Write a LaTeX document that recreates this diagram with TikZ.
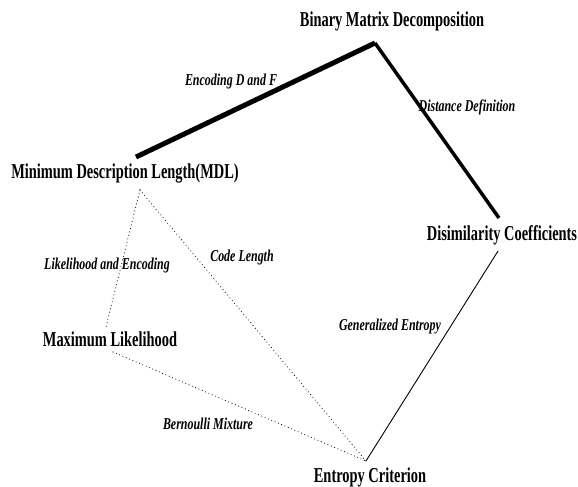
\documentclass[tikz,border=0pt]{standalone}
\usepackage{fontspec}
\setmainfont{Liberation Serif}[FakeStretch=0.68]
\newfontfamily\labfont{Liberation Serif}[FakeStretch=0.72]
\begin{document}
\begin{tikzpicture}[x=1pt,y=-1pt,
  concept/.style={font=\fontsize{21.2}{24}\selectfont\bfseries, inner sep=0pt, anchor=base},
  rel/.style={font=\labfont\fontsize{16.6}{19}\selectfont\bfseries\itshape, inner sep=0pt},
  thickline/.style={line width=5pt},
  midline/.style={line width=3.5pt},
  thinline/.style={line width=0.9pt},
  dotline/.style={line width=1.1pt, line cap=round, dash pattern=on 0pt off 3.6pt}]
\useasboundingbox (0,0) rectangle (578,487);
% concept nodes
\node[concept] (bmd) at (392,27) {Binary Matrix Decomposition};
\node[concept] (mdl) at (125,178) {Minimum Description Length(MDL)};
\node[concept] (dis) at (502,240) {Disimilarity Coefficients};
\node[concept] (ml)  at (110,346) {Maximum Likelihood};
\node[concept] (ent) at (370,482) {Entropy Criterion};
% connector ends
\coordinate (bmdp) at (375,43);
\coordinate (mdla) at (136,157);
\coordinate (mdlb) at (140,190);
\coordinate (disa) at (499,218);
\coordinate (disb) at (498,251);
\coordinate (mla)  at (106,327);
\coordinate (mlb)  at (113,352);
\coordinate (enta) at (366,461);
% connectors
\draw[thickline] (mdla) -- (bmdp);
\draw[midline] (bmdp) -- (disa);
\draw[thinline] (disb) -- (enta);
\draw[dotline] (mdlb) -- (mla);
\draw[dotline] (mdlb) -- (enta);
\draw[dotline] (mlb) -- (enta);
% relation labels
\node[rel] (l1) at (231,82) {Encoding D and F};
\node[rel] (l2) at (467,107) {Distance Definition};
\node[rel] (l3) at (107,266) {Likelihood and Encoding};
\node[rel] (l4) at (242,258) {Code Length};
\node[rel] (l5) at (390,327) {Generalized Entropy};
\node[rel] (l6) at (208,424) {Bernoulli Mixture};
\end{tikzpicture}
\end{document}
